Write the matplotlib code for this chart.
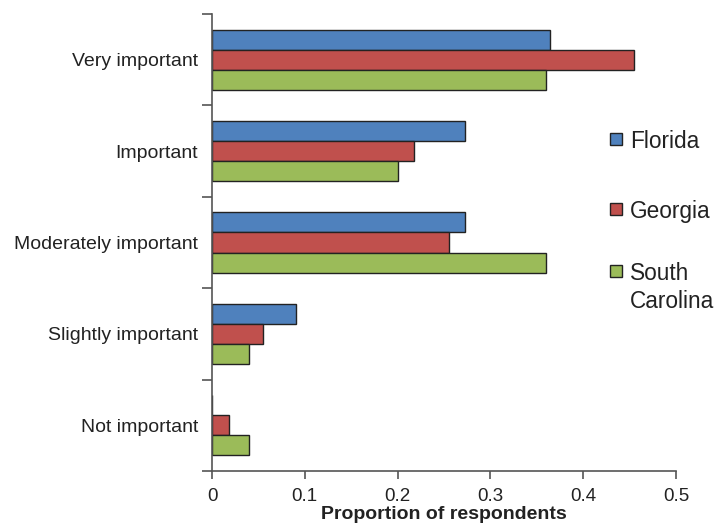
import matplotlib
matplotlib.use("Agg")
import matplotlib.pyplot as plt
from matplotlib.patches import Rectangle
import numpy as np

plt.rcParams['font.family'] = ['Liberation Sans', 'DejaVu Sans']

categories = ["Very important", "Important", "Moderately important", "Slightly important", "Not important"]
series_names = ["Florida", "Georgia", "South\nCarolina"]
florida = [0.364, 0.273, 0.273, 0.091, 0.0]
georgia = [0.455, 0.218, 0.255, 0.055, 0.018]
south_carolina = [0.36, 0.20, 0.36, 0.04, 0.04]
colors = ["#4F81BD", "#C0504D", "#9BBB59"]
xticks = [0, 0.1, 0.2, 0.3, 0.4, 0.5]

W, H = 718, 525
fig = plt.figure(figsize=(W/100, H/100), dpi=100)
ax = fig.add_axes([212/W, 1-471/H, (676-212)/W, (471-14)/H])

y = np.arange(len(categories))
h = 0.219
for i, (vals, name, c) in enumerate(zip([florida, georgia, south_carolina], series_names, colors)):
    ax.barh(y + (i-1)*h, vals, height=h, color=c, edgecolor="#222222", linewidth=1.0, label=name)

ax.set_ylim(len(categories)-0.5, -0.5)
ax.set_xlim(0, 0.5)
ax.set_xticks(xticks)
ax.set_xticklabels([f"{t:g}" for t in xticks], fontsize=13.5, color="#222222")
ax.set_yticks(np.arange(-0.5, len(categories)), minor=False)
ax.set_yticklabels([])
ax.set_yticks(y, minor=True)
ax.set_yticklabels(categories, minor=True, fontsize=14, color="#222222")
ax.tick_params(axis='y', which='minor', length=0, pad=10)
ax.tick_params(axis='y', which='major', length=7, direction='out', color="#555555", width=1.2)
ax.tick_params(axis='x', length=6, direction='out', color="#555555", width=1.2, pad=6)
for s in ['top', 'right']:
    ax.spines[s].set_visible(False)
for s in ['left', 'bottom']:
    ax.spines[s].set_color("#555555")
    ax.spines[s].set_linewidth(1.2)
ax.set_xlabel("Proportion of respondents", fontsize=14, fontweight='bold', color="#222222", labelpad=1)

# legend drawn manually (handle aligned with first text line)
leg_y = [139, 209, 271]
for name, c, yy in zip(series_names, colors, leg_y):
    fig.patches.append(Rectangle((610/W, 1-(yy+6)/H), 12/W, 12/H, transform=fig.transFigure,
                                 facecolor=c, edgecolor="#222222", linewidth=1.0))
    fig.text(630/W, 1-(yy-9)/H, name, fontsize=16.3, color="#222222", va='top', ha='left',
             linespacing=1.25)

fig.savefig("out.png", dpi=100)
